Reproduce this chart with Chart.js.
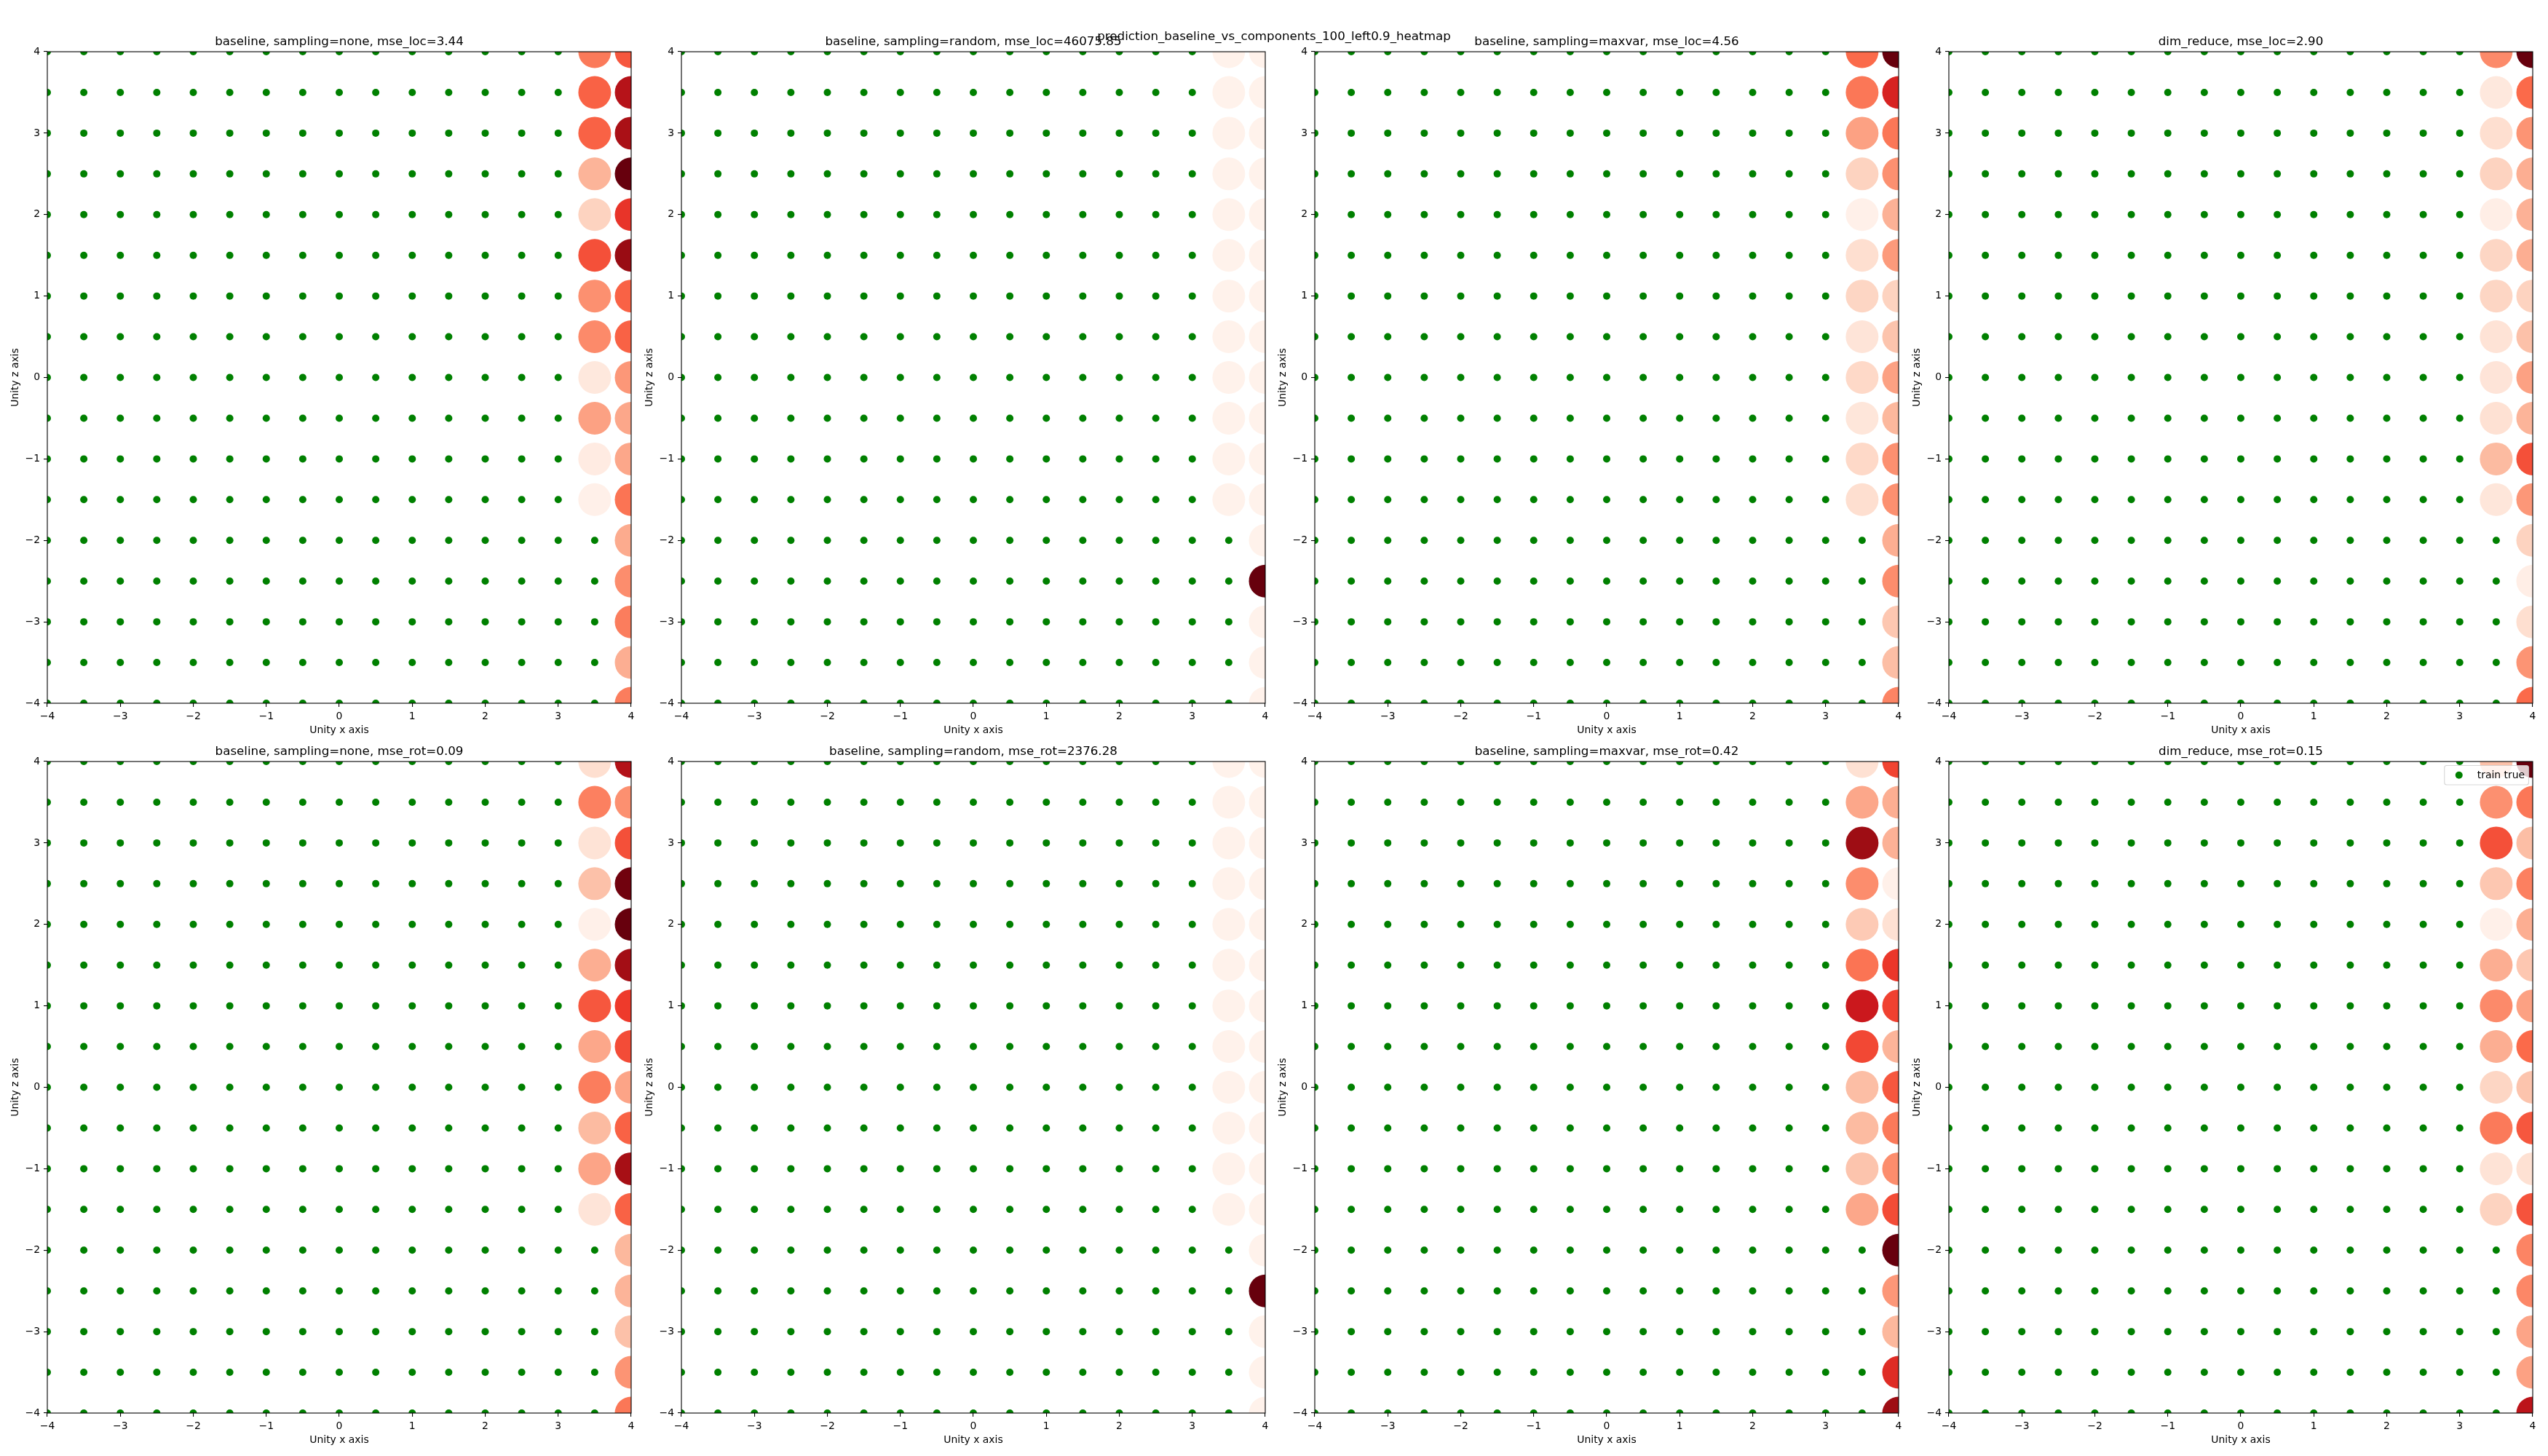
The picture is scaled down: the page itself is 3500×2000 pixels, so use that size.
<!DOCTYPE html>
<html><head><meta charset="utf-8">
<script src="https://cdn.jsdelivr.net/npm/chart.js@4/dist/chart.umd.min.js"></script>
<style>
body{margin:0;background:#fff;width:3500px;height:2000px;position:relative;overflow:hidden;font-family:"DejaVu Sans";}
canvas{position:absolute;}
#sup{position:absolute;left:0;width:3500px;top:40px;text-align:center;font-size:16.7px;line-height:19.4px;font-family:"DejaVu Sans";color:#000;z-index:10;white-space:nowrap;}
</style></head><body>
<div id="sup">prediction_baseline_vs_components_100_left0.9_heatmap</div>
<script>
// ---------------- data ----------------
const gridX = [-4,-3.5,-3,-2.5,-2,-1.5,-1,-0.5,0,0.5,1,1.5,2,2.5,3,3.5,4];
const gridZ = [4,3.5,3,2.5,2,1.5,1,0.5,0,-0.5,-1,-1.5,-2,-2.5,-3,-3.5,-4];
const testColA_x = 3.5;
const testColA_z = [4,3.5,3,2.5,2,1.5,1,0.5,0,-0.5,-1,-1.5];
const testColB_x = 4;
const testColB_z = [4,3.5,3,2.5,2,1.5,1,0.5,0,-0.5,-1,-1.5,-2,-2.5,-3,-3.5,-4];
const xTicks = [-4,-3,-2,-1,0,1,2,3,4];
const yTicks = [-4,-3,-2,-1,0,1,2,3,4];
const titles = [
  "baseline, sampling=none, mse_loc=3.44",
  "baseline, sampling=random, mse_loc=46075.85",
  "baseline, sampling=maxvar, mse_loc=4.56",
  "dim_reduce, mse_loc=2.90",
  "baseline, sampling=none, mse_rot=0.09",
  "baseline, sampling=random, mse_rot=2376.28",
  "baseline, sampling=maxvar, mse_rot=0.42",
  "dim_reduce, mse_rot=0.15"
];
// normalized error (0..1) of test points, column x=3.5 (z = 4 .. -1.5)
const errA_1 = [0.45,0.52,0.52,0.27,0.17,0.57,0.38,0.40,0.08,0.33,0.06,0.03];
const errA_2 = [0.02,0.02,0.02,0.02,0.02,0.02,0.02,0.02,0.02,0.02,0.02,0.02];
const errA_3 = [0.50,0.46,0.33,0.17,0.03,0.13,0.16,0.10,0.15,0.09,0.15,0.13];
const errA_4 = [0.40,0.08,0.13,0.17,0.04,0.16,0.16,0.11,0.10,0.12,0.25,0.09];
const errA_5 = [0.13,0.43,0.11,0.23,0.03,0.29,0.55,0.31,0.44,0.25,0.32,0.10];
const errA_6 = [0.02,0.02,0.02,0.02,0.02,0.02,0.02,0.02,0.02,0.02,0.02,0.02];
const errA_7 = [0.12,0.31,0.89,0.39,0.20,0.47,0.75,0.59,0.24,0.25,0.22,0.31];
const errA_8 = [0.23,0.38,0.57,0.21,0.03,0.29,0.40,0.29,0.16,0.45,0.11,0.17];
// column x=4 (z = 4 .. -4)
const errB_1 = [0.55,0.82,0.86,1.00,0.65,0.90,0.52,0.52,0.36,0.31,0.31,0.47,0.30,0.39,0.44,0.29,0.44];
const errB_2 = [0.02,0.02,0.02,0.02,0.02,0.02,0.02,0.02,0.02,0.02,0.02,0.02,0.02,1.00,0.02,0.02,0.02];
const errB_3 = [1.00,0.71,0.46,0.38,0.28,0.35,0.17,0.22,0.33,0.26,0.38,0.38,0.29,0.39,0.21,0.24,0.42];
const errB_4 = [1.00,0.50,0.37,0.29,0.28,0.29,0.17,0.23,0.33,0.27,0.57,0.36,0.17,0.04,0.13,0.37,0.50];
const errB_5 = [0.83,0.38,0.57,0.98,1.00,0.88,0.63,0.58,0.32,0.52,0.87,0.52,0.26,0.27,0.23,0.37,0.46];
const errB_6 = [0.02,0.02,0.02,0.02,0.02,0.02,0.02,0.02,0.02,0.02,0.02,0.02,0.02,1.00,0.02,0.02,0.02];
const errB_7 = [0.60,0.29,0.28,0.03,0.12,0.64,0.61,0.27,0.55,0.45,0.39,0.58,1.00,0.36,0.26,0.68,0.89];
const errB_8 = [1.00,0.46,0.24,0.43,0.29,0.21,0.33,0.50,0.22,0.55,0.12,0.56,0.42,0.41,0.32,0.33,0.80];
const errA = [errA_1,errA_2,errA_3,errA_4,errA_5,errA_6,errA_7,errA_8];
const errB = [errB_1,errB_2,errB_3,errB_4,errB_5,errB_6,errB_7,errB_8];
const trainLabel = "train true";

// ---------------- helpers ----------------
const REDS = [[255,245,240],[254,224,210],[252,187,161],[252,146,114],[251,106,74],[239,59,44],[203,24,29],[165,15,21],[103,0,13]];
function reds(v){
  v = Math.max(0, Math.min(1, v));
  const p = v * (REDS.length - 1);
  const i = Math.min(Math.floor(p), REDS.length - 2);
  const f = p - i;
  const c = REDS[i].map((a, k) => Math.round(a + (REDS[i+1][k] - a) * f));
  return `rgb(${c[0]},${c[1]},${c[2]})`;
}
const isTest = (x, z) => (x === testColB_x && testColB_z.includes(z)) || (x === testColA_x && testColA_z.includes(z));
const trainPts = [];
for (const z of gridZ) for (const x of gridX) if (!isTest(x, z)) trainPts.push({x: x, y: z});
const minus = v => String(v).replace('-', '\u2212');
const FONT = 'DejaVu Sans';

Chart.defaults.color = '#000';
Chart.defaults.font.family = FONT;

const framePlugin = {
  id: 'frame',
  afterDatasetsDraw(chart) {
    const {ctx, chartArea: a} = chart;
    ctx.save();
    ctx.strokeStyle = '#000';
    ctx.lineWidth = 1.1;
    ctx.strokeRect(a.left, a.top, a.right - a.left, a.bottom - a.top);
    ctx.restore();
  }
};
const innerLegend = {
  id: 'innerLegend',
  afterDraw(chart, args, opts) {
    if (!opts.show) return;
    const {ctx, chartArea: a} = chart;
    const ds = chart.data.datasets.find(d => d.label);
    ctx.save();
    ctx.font = `13.9px "${FONT}"`;
    const tw = ctx.measureText(ds.label).width;
    const boxR = a.right - 5.5, boxT = a.top + 5.5, boxH = 26.5;
    const textX = boxR - 5.5 - tw;
    const mX = textX - 25;
    const boxL = mX - 20;
    ctx.beginPath();
    if (ctx.roundRect) ctx.roundRect(boxL, boxT, boxR - boxL, boxH, 3); else ctx.rect(boxL, boxT, boxR - boxL, boxH);
    ctx.fillStyle = 'rgba(255,255,255,0.8)';
    ctx.fill();
    ctx.strokeStyle = 'rgba(204,204,204,0.8)';
    ctx.lineWidth = 1.1;
    ctx.stroke();
    ctx.beginPath();
    ctx.arc(mX, boxT + boxH / 2, 5, 0, Math.PI * 2);
    ctx.fillStyle = ds.backgroundColor;
    ctx.fill();
    ctx.fillStyle = '#000';
    ctx.textBaseline = 'middle';
    ctx.textAlign = 'left';
    ctx.fillText(ds.label, textX, boxT + boxH / 2 + 0.5);
    ctx.restore();
  }
};

// ---------------- layout ----------------
const AX_W = 802, AX_H = 895;
const colLeft = [65, 935.7, 1806.4, 2677];
const rowTop = [71, 1046];
const Y_W = 65, X_H = 55, T_H = 33, PAD_R = 15;

for (let i = 0; i < 8; i++) {
  const c = i % 4, r = Math.floor(i / 4);
  const L = colLeft[c], T = rowTop[r];
  const cv = document.createElement('canvas');
  cv.width = Math.round(Y_W + AX_W + PAD_R);
  cv.height = Math.round(T_H + AX_H + X_H);
  cv.style.left = (L - Y_W) + 'px';
  cv.style.top = (T - T_H) + 'px';
  document.body.appendChild(cv);

  const testPts = [], testCols = [];
  testColA_z.forEach((z, k) => { testPts.push({x: testColA_x, y: z}); testCols.push(reds(errA[i][k])); });
  testColB_z.forEach((z, k) => { testPts.push({x: testColB_x, y: z}); testCols.push(reds(errB[i][k])); });

  new Chart(cv, {
    type: 'scatter',
    data: {
      datasets: [
        {label: trainLabel, data: trainPts, backgroundColor: '#008000', pointRadius: 5, pointBorderWidth: 0, pointHoverRadius: 5, clip: 0},
        {label: '', data: testPts, backgroundColor: testCols, pointRadius: 22.5, pointBorderWidth: 0, pointHoverRadius: 22.5, clip: 0}
      ]
    },
    options: {
      responsive: false,
      animation: false,
      events: [],
      layout: {autoPadding: false, padding: {left: 0, top: 0, bottom: 0, right: PAD_R}},
      plugins: {
        legend: {display: false},
        tooltip: {enabled: false},
        title: {display: true, text: titles[i], fullSize: false, color: '#000',
                font: {family: FONT, size: 16.7, weight: 'normal', lineHeight: 1.2},
                padding: {top: 10, bottom: 3}},
        innerLegend: {show: i === 7}
      },
      scales: {
        x: {
          type: 'linear', min: -4, max: 4,
          afterFit: s => { s.height = X_H; },
          afterBuildTicks: s => { s.ticks = xTicks.map(v => ({value: v})); },
          ticks: {font: {family: FONT, size: 13.9}, color: '#000', padding: 5, maxRotation: 0, autoSkip: false, callback: v => minus(v)},
          grid: {drawOnChartArea: false, drawTicks: true, tickLength: 5, color: '#000', tickColor: '#000', lineWidth: 1.1},
          border: {display: false},
          title: {display: true, text: 'Unity x axis', color: '#000', font: {family: FONT, size: 13.9, lineHeight: 1.2}, padding: {top: 0, bottom: 9}}
        },
        y: {
          type: 'linear', min: -4, max: 4,
          afterFit: s => { s.width = Y_W; },
          afterBuildTicks: s => { s.ticks = yTicks.map(v => ({value: v})); },
          ticks: {font: {family: FONT, size: 13.9}, color: '#000', padding: 5, autoSkip: false, callback: v => minus(v)},
          grid: {drawOnChartArea: false, drawTicks: true, tickLength: 5, color: '#000', tickColor: '#000', lineWidth: 1.1},
          border: {display: false},
          title: {display: true, text: 'Unity z axis', color: '#000', font: {family: FONT, size: 13.9, lineHeight: 1.2}, padding: {top: 13, bottom: 0}}
        }
      }
    },
    plugins: [framePlugin, innerLegend]
  });
}
</script>
</body></html>
